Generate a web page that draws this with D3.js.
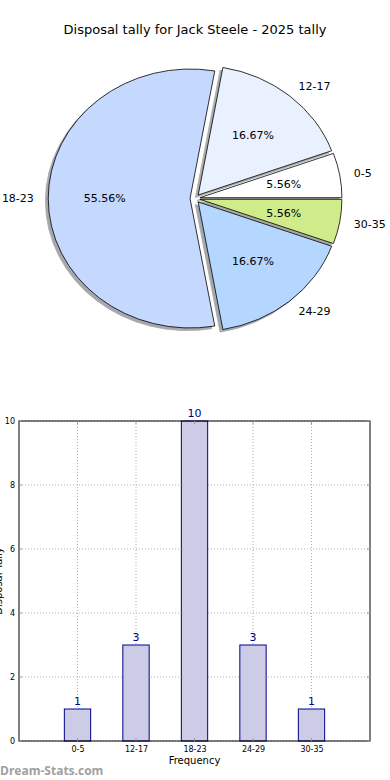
<!DOCTYPE html>
<html><head><meta charset="utf-8">
<script src="https://cdn.jsdelivr.net/npm/d3@7"></script>
<style>body{margin:0;background:#fff}svg{display:block;font-family:"DejaVu Sans",sans-serif}</style>
</head><body><svg id="c" width="390" height="780"></svg>
<script>
const categories = ["0-5","12-17","18-23","24-29","30-35"];
const tallies = [1,3,10,3,1];
const sliceColors = ["#ffffff","#eaf1fe","#c5d8fe","#b5d6fe","#d0eb8a"];
const yTicks = [0,2,4,6,8,10];
const title = "Disposal tally for Jack Steele - 2025 tally";

const svg = d3.select("#c");
svg.append("text").attr("x",195).attr("y",34).attr("text-anchor","middle").attr("font-size",13).attr("fill","#000").text(title);

// ---- Pie (elliptical, like matplotlib with unequal aspect) ----
const cx = 195, cy = 198.5, rx = 142, ry = 129.5, explode = 0.035, shadowOff = 0.02;
const total = d3.sum(tallies);
const pie = d3.pie().sort(null).startAngle(Math.PI/2).endAngle(Math.PI/2 - 2*Math.PI);
const arcs = pie(tallies);
const arc = d3.arc().innerRadius(0).outerRadius(1);
const gPie = svg.append("g").attr("transform",`translate(${cx},${cy})`);
function off(d, k){ const a=(d.startAngle+d.endAngle)/2; return [k*rx*Math.sin(a), -k*ry*Math.cos(a)]; }
// shadows
arcs.forEach((d,i)=>{
  const [dx,dy]=off(d,explode);
  const c=d3.rgb(sliceColors[i]);
  const sc=d3.rgb(c.r*0.3,c.g*0.3,c.b*0.3);
  gPie.append("path").attr("d",arc(d))
    .attr("transform",`translate(${dx - shadowOff*rx},${dy + shadowOff*ry}) scale(${rx},${ry})`)
    .attr("fill",sc).attr("stroke",sc).attr("stroke-width",0.8).attr("vector-effect","non-scaling-stroke")
    .attr("opacity",0.45);
});
arcs.forEach((d,i)=>{
  const [dx,dy]=off(d,explode);
  gPie.append("path").attr("d",arc(d))
    .attr("transform",`translate(${dx},${dy}) scale(${rx},${ry})`)
    .attr("fill",sliceColors[i]).attr("stroke","#000").attr("stroke-width",0.8).attr("vector-effect","non-scaling-stroke");
});
arcs.forEach((d,i)=>{
  const a=(d.startAngle+d.endAngle)/2;
  const [dx,dy]=off(d,explode);
  const px=dx+0.6*rx*Math.sin(a), py=dy-0.6*ry*Math.cos(a);
  gPie.append("text").attr("x",px).attr("y",py).attr("dy","0.35em").attr("text-anchor","middle")
    .attr("font-size",11).text((100*tallies[i]/total).toFixed(2)+"%");
  const lx=dx+1.1*rx*Math.sin(a), ly=dy-1.1*ry*Math.cos(a);
  gPie.append("text").attr("x",lx).attr("y",ly).attr("dy","0.35em")
    .attr("text-anchor", lx<0?"end":"start").attr("font-size",11).text(categories[i]);
});

// ---- Bar chart ----
const L=19,R=370,T=421,B=741;
const x = d3.scaleLinear().domain([-1,5]).range([L,R]);
const y = d3.scaleLinear().domain([0,10]).range([B,T]);
const g = svg.append("g");
// grid
categories.forEach((c,i)=>{
  g.append("line").attr("x1",x(i)).attr("x2",x(i)).attr("y1",T).attr("y2",B)
   .attr("stroke","#b0b0b0").attr("stroke-width",1).attr("stroke-dasharray","1,2");
});
yTicks.forEach(t=>{
  g.append("line").attr("x1",L).attr("x2",R).attr("y1",y(t)).attr("y2",y(t))
   .attr("stroke","#b0b0b0").attr("stroke-width",1).attr("stroke-dasharray","1,2");
});
// bars
const bw = 0.45;
g.selectAll("rect.bar").data(tallies).enter().append("rect")
  .attr("x",(d,i)=>x(i-bw/2)).attr("width",x(bw)-x(0))
  .attr("y",d=>y(d)).attr("height",d=>y(0)-y(d))
  .attr("fill","#cccce6").attr("stroke","#000088").attr("stroke-width",1);
g.selectAll("text.val").data(tallies).enter().append("text")
  .attr("x",(d,i)=>x(i)).attr("y",d=>y(d)-4).attr("text-anchor","middle")
  .attr("font-size",11).attr("fill","#000088").text(d=>d);
// frame
g.append("rect").attr("x",L).attr("y",T).attr("width",R-L).attr("height",B-T)
  .attr("fill","none").attr("stroke","#000").attr("stroke-width",1);
// ticks
const xAxis = d3.axisBottom(x).tickValues(d3.range(categories.length)).tickFormat(i=>categories[i]).tickSize(0).tickPadding(5);
const xa = svg.append("g").attr("transform",`translate(0,${B})`).call(xAxis);
xa.select(".domain").remove();
xa.selectAll("text").attr("font-size",8).attr("font-family","DejaVu Sans").attr("fill","#000");
const yAxis = d3.axisLeft(y).tickValues(yTicks).tickSize(0).tickPadding(4);
const ya = svg.append("g").attr("transform",`translate(${L},0)`).call(yAxis);
ya.select(".domain").remove();
ya.selectAll("text").attr("font-size",8).attr("font-family","DejaVu Sans").attr("fill","#000");
// inward tick marks
categories.forEach((c,i)=>{
  g.append("line").attr("x1",x(i)).attr("x2",x(i)).attr("y1",B).attr("y2",B-3).attr("stroke","#999");
  g.append("line").attr("x1",x(i)).attr("x2",x(i)).attr("y1",T).attr("y2",T+3).attr("stroke","#999");
});
yTicks.forEach(t=>{
  g.append("line").attr("x1",L).attr("x2",L+3).attr("y1",y(t)).attr("y2",y(t)).attr("stroke","#999");
  g.append("line").attr("x1",R).attr("x2",R-3).attr("y1",y(t)).attr("y2",y(t)).attr("stroke","#999");
});
svg.append("text").attr("x",(L+R)/2).attr("y",764).attr("text-anchor","middle").attr("font-size",10).text("Frequency");
svg.append("text").attr("transform","translate(1.5,581) rotate(-90)").attr("text-anchor","middle").attr("font-size",10).text("Disposal Tally");
svg.append("text").attr("x",0).attr("y",775).attr("font-size",12).attr("font-weight","bold").attr("fill","#a0a0a0").attr("font-family","Open Sans, sans-serif").text("Dream-Stats.com");
</script></body></html>
